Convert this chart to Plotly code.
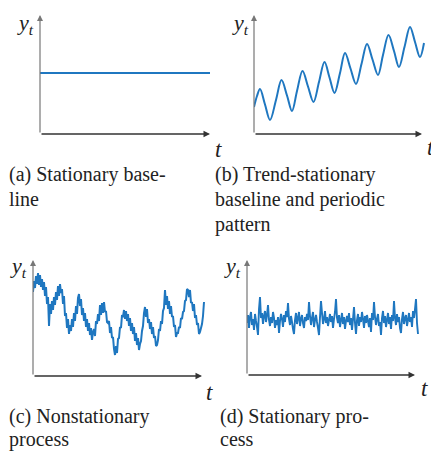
import plotly.graph_objects as go

W_PX, H_PX = 431, 455
BLUE = "#1f77c0"

# ---- data (heights above the time axis, in chart units) ----
a_t = [0, 170]
a_y = [61, 61]

b_t = [0, 3, 6, 11, 16, 22, 27.5, 33, 38, 43, 48.5, 54, 59.5, 65, 70.5, 75.5, 80.5,
       86, 91, 96.5, 102, 107.5, 113, 118.5, 124, 129, 134.5, 140, 145, 150.5, 156,
       161, 166, 170]
b_y = [27, 38, 45, 29.5, 14, 34, 54, 38.5, 23, 43, 63, 47.5, 32, 52, 72, 56.5, 41,
       61, 81, 65.5, 50, 70, 90, 74.5, 59, 79, 99, 83, 67, 87, 107, 92, 77, 91]

c_y = [84, 95, 88, 100, 92, 103, 91, 101, 89, 97,
       86, 94, 80, 89, 72, 79, 50, 72, 62, 75,
       66, 79, 71, 84, 76, 90, 80, 92, 83,
       87, 72, 80, 60,
       63, 48, 57, 42, 51,
       45, 57, 49, 63, 55,
       70, 62, 78, 82,
       70, 77, 61,
       68, 55, 63, 49, 57, 45,
       53, 41, 48, 36, 44,
       47, 40, 55, 52,
       62, 55, 71,
       61, 73, 63, 74, 64,
       65, 54, 53,
       55, 43, 49, 38,
       39, 27, 21,
       30, 23, 37,
       38, 49, 48, 61, 59,
       66, 57, 65,
       55, 62, 50, 58, 45, 53,
       42, 49, 35, 43, 31,
       38, 26, 32,
       35, 45, 50, 63, 69,
       59, 67, 53, 57,
       47, 54, 42, 49, 38,
       40, 30, 31,
       36, 47, 45, 55, 52,
       65, 68, 86,
       71, 80, 67,
       75, 62, 70, 59,
       60, 49, 51, 39, 43,
       43, 49, 48, 58, 57, 64, 65, 75,
       76, 87, 86,
       79, 86, 73, 74,
       65, 72, 58, 61, 51,
       53, 42, 44,
       48, 52, 60, 74]

d_y = [52, 60, 47, 58, 63, 50, 56, 45, 61, 54,
       48, 40, 66, 78, 57, 62, 51, 59, 64, 53,
       60, 70, 55, 49, 58, 52, 63, 57, 47, 55,
       50, 58, 42, 54, 61, 56, 48, 60, 53, 64,
       58, 72, 56, 50, 59, 53, 46, 41, 55, 62,
       51, 57, 63, 49, 56, 60, 52, 47, 58, 54,
       61, 55, 73, 59, 50, 57, 63, 48, 55, 60,
       53, 47, 40, 58, 74, 62, 51, 56, 64, 52,
       58, 49, 55, 61, 53, 59, 47, 56, 63, 76,
       57, 52, 60, 48, 55, 62, 51, 58, 46, 54,
       59, 53, 62, 50, 57, 45, 56, 68, 52, 41,
       55, 61, 49, 58, 53, 63, 56, 47, 59, 52,
       60, 54, 48, 57, 43, 62, 55, 73, 58, 50,
       56, 61, 49, 53, 40, 57, 64, 52, 59, 48,
       55, 62, 51, 58, 46, 60, 54, 74, 57, 50,
       61, 53, 58, 47, 42, 56, 63, 51, 57, 60,
       49, 55, 62, 53, 58, 48, 64, 57, 66, 76,
       52, 41]

captions = {
    "a": ["(a) Stationary base-", "line"],
    "b": ["(b) Trend-stationary", "baseline and periodic", "pattern"],
    "c": ["(c) Nonstationary", "process"],
    "d": ["(d) Stationary pro-", "cess"],
}

# ---- layout helpers ----
def px(x):
    return min(max(x / W_PX, 0), 1)

def py(y):
    return min(max(1 - y / H_PX, 0), 1)

# panel geometry: (origin x px, axis y px, x-arrow length, y-arrow length)
panels = {
    "a": (40, 134, 170, 119),
    "b": (254, 134, 168, 119),
    "c": (33, 376, 169, 116),
    "d": (247, 375, 168, 115),
}
SPAN_X, SPAN_Y = 172, 125

fig = go.Figure()
layout = dict(width=W_PX, height=H_PX, margin=dict(l=0, r=0, t=0, b=0),
              paper_bgcolor="white", plot_bgcolor="rgba(0,0,0,0)", showlegend=False)
annotations = []

series = {
    "a": (a_t, a_y, 2.2),
    "b": (b_t, b_y, 2.0),
    "c": (list(range(len(c_y))), c_y, 2.0),
    "d": (list(range(len(d_y))), d_y, 1.9),
}

for i, key in enumerate(["a", "b", "c", "d"], start=1):
    x0, yax, lx, ly = panels[key]
    xa = "xaxis" if i == 1 else f"xaxis{i}"
    ya = "yaxis" if i == 1 else f"yaxis{i}"
    xr = "x" if i == 1 else f"x{i}"
    yr = "y" if i == 1 else f"y{i}"
    layout[xa] = dict(domain=[px(x0), px(x0 + SPAN_X)], range=[0, SPAN_X], visible=False,
                      anchor=yr)
    layout[ya] = dict(domain=[py(yax), py(yax - SPAN_Y)], range=[0, SPAN_Y], visible=False,
                      anchor=xr)
    t, v, w = series[key]
    shape = "spline" if key == "b" else "linear"
    fig.add_trace(go.Scatter(x=t, y=v, mode="lines", xaxis=xr, yaxis=yr,
                             line=dict(color=BLUE, width=w, shape=shape, simplify=False)))
    # axes with arrows
    annotations.append(dict(x=lx, y=0, ax=0, ay=0, xref=xr, yref=yr, axref=xr, ayref=yr,
                            text="", showarrow=True, arrowhead=2, arrowsize=1,
                            arrowwidth=1.3, arrowcolor="#333333", standoff=0))
    annotations.append(dict(x=0, y=ly, ax=0, ay=0, xref=xr, yref=yr, axref=xr, ayref=yr,
                            text="", showarrow=True, arrowhead=2, arrowsize=1,
                            arrowwidth=1.2, arrowcolor="#777777", standoff=0))

SERIF = "Liberation Serif"
# y_t labels and t labels
ylab_pos = {"a": (25, 24), "b": (240, 24), "c": (18, 267), "d": (232, 267)}
tlab_pos = {"a": (218, 150), "b": (430, 148), "c": (209, 392), "d": (424, 388)}
for key in ylab_pos:
    x, y = ylab_pos[key]
    annotations.append(dict(x=px(x), y=py(y), xref="paper", yref="paper",
                            text="<i>y<sub>t</sub></i>", showarrow=False,
                            font=dict(family=SERIF, size=22, color="#222"),
                            xanchor="center", yanchor="middle"))
    x, y = tlab_pos[key]
    annotations.append(dict(x=px(x), y=py(y), xref="paper", yref="paper",
                            text="<i>t</i>", showarrow=False,
                            font=dict(family=SERIF, size=23, color="#222"),
                            xanchor="center", yanchor="middle"))

# captions
cap_pos = {"a": (7, [174, 199]), "b": (213, [174, 199, 224]),
           "c": (7, [416, 439]), "d": (218, [416, 439])}
for key, lines in captions.items():
    x, ys = cap_pos[key]
    for line, y in zip(lines, ys):
        annotations.append(dict(x=px(x), y=py(y), xref="paper", yref="paper",
                                text=line, showarrow=False,
                                font=dict(family=SERIF, size=20, color="#222"),
                                xanchor="left", yanchor="middle"))

layout["annotations"] = annotations
fig.update_layout(**layout)
fig.write_html("out.html")
